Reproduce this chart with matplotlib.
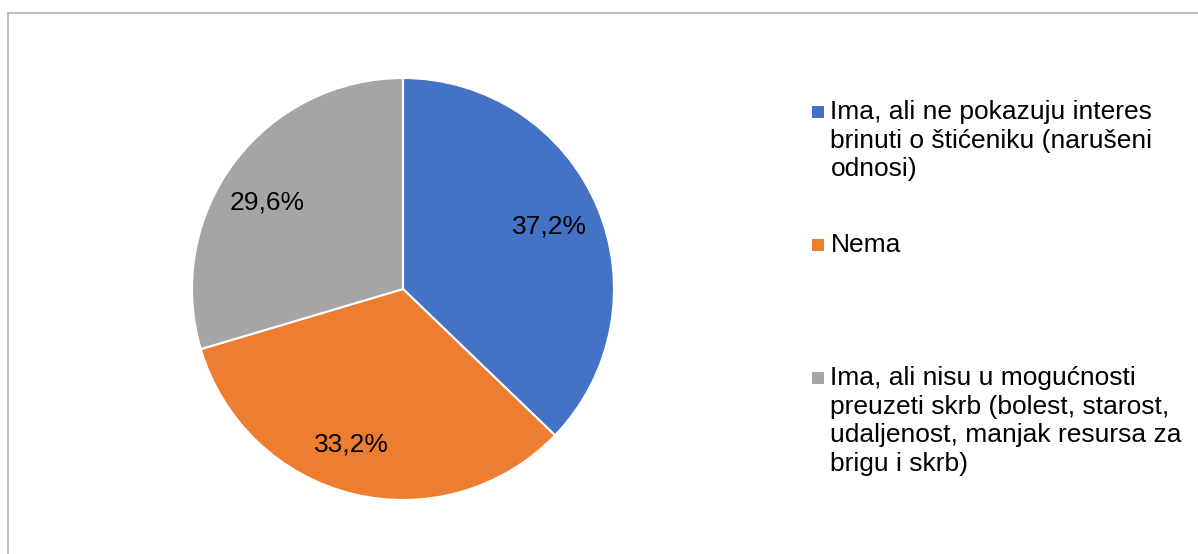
import matplotlib
matplotlib.use("Agg")
import matplotlib.pyplot as plt
from matplotlib.patches import Rectangle
from matplotlib.lines import Line2D

plt.rcParams['font.family'] = ['Liberation Sans', 'DejaVu Sans']

# ---- data ----
labels = [
    "Ima, ali ne pokazuju interes\nbrinuti o štićeniku (narušeni\nodnosi)",
    "Nema",
    "Ima, ali nisu u mogućnosti\npreuzeti skrb (bolest, starost,\nudaljenost, manjak resursa za\nbrigu i skrb)",
]
values = [37.2, 33.2, 29.6]
colors = ["#4472C4", "#ED7D31", "#A5A5A5"]

W, H = 1198, 554
fig = plt.figure(figsize=(W / 100, H / 100), dpi=100)
fig.patch.set_facecolor("white")

# border (chart area frame)
border_color = "#b3b3b3"
fig.add_artist(Line2D([8 / W, 1.0], [1 - 13 / H, 1 - 13 / H], transform=fig.transFigure,
                      color=border_color, lw=1.2))
fig.add_artist(Line2D([8 / W, 8 / W], [1 - 13 / H, 0.0], transform=fig.transFigure,
                      color=border_color, lw=1.2))

# pie axes: centre (403, 289), radius 211 px
cx, cy, r = 403, 289, 211
ax = fig.add_axes([(cx - r) / W, (H - cy - r) / H, 2 * r / W, 2 * r / H])
wedges, texts, autotexts = ax.pie(
    values, colors=colors, startangle=90, counterclock=False, radius=1.0,
    autopct=lambda p: f"{p:.1f}%".replace(".", ","), pctdistance=0.77,
    wedgeprops=dict(edgecolor="white", linewidth=1.5),
    textprops=dict(fontsize=19, color="black"),
)
# label placement as in the original (Excel best-fit), in units of radius
label_pos = [(0.692, 0.294), (-0.246, -0.739), (-0.645, 0.408)]
for t, p in zip(autotexts, label_pos):
    t.set_position(p)
    t.set_va("center")
    t.set_ha("center")
ax.set_xlim(-1, 1)
ax.set_ylim(-1, 1)
ax.set_aspect("equal")
ax.axis("off")

# legend (manual, right side)
entry_top_baselines = [119, 252, 385]
line_step = 28.6
sq = 12.5
for lab, col, b0 in zip(labels, colors, entry_top_baselines):
    fig.add_artist(Rectangle((811.5 / W, (H - b0 + 1) / H), sq / W, sq / H,
                             transform=fig.transFigure, facecolor=col, edgecolor="none"))
    for i, line in enumerate(lab.split("\n")):
        fig.text(830.5 / W, (H - (b0 + i * line_step)) / H, line, fontsize=19,
                 color="black", ha="left", va="baseline")

fig.savefig("out.png", dpi=100, facecolor="white")
